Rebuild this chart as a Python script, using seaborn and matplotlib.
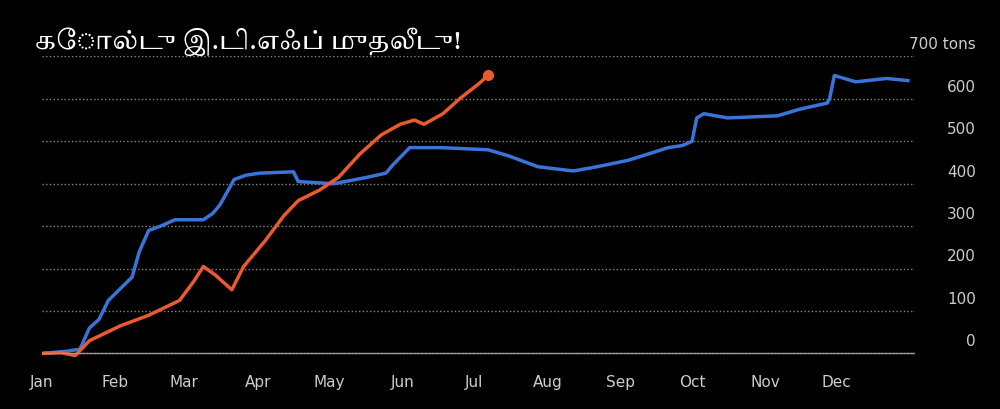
import pandas as pd
import matplotlib.pyplot as plt
import seaborn as sns
from matplotlib import font_manager

# Day-of-year positions and holdings (tons)
blue_days = [0, 10, 16, 20, 24, 28, 38, 41, 45, 50, 56, 68, 72, 75, 81, 86, 92, 106, 108, 123, 137, 145, 148, 155, 168, 188, 197, 209, 224, 234, 247, 264, 270, 274, 276, 279, 289, 310, 319, 331, 332, 334, 343, 356, 365]
blue_tons = [0, 5, 10, 60, 80, 125, 180, 240, 290, 300, 315, 315, 330, 350, 410, 420, 425, 428, 405, 400, 415, 425, 445, 485, 485, 480, 465, 440, 430, 440, 455, 485, 490, 500, 555, 565, 555, 560, 575, 590, 600, 655, 640, 648, 643]
orange_days = [0, 8, 14, 20, 33, 45, 58, 64, 68, 73, 80, 85, 94, 102, 108, 117, 125, 134, 143, 151, 157, 161, 169, 176, 184, 188]
orange_tons = [0, 2, -5, 30, 65, 90, 125, 170, 205, 185, 150, 205, 265, 325, 360, 385, 415, 470, 515, 540, 550, 540, 565, 600, 635, 655]
month_labels = ["Jan", "Feb", "Mar", "Apr", "May", "Jun", "Jul", "Aug", "Sep", "Oct", "Nov", "Dec"]
title = "கோல்டு இ.டி.எஃப் முதலீடு!"

fonts = [f.name for f in font_manager.fontManager.ttflist]
tamil = next((n for n in fonts if "Tamil" in n), "Noto Sans")

fig = plt.figure(figsize=(10, 4.1), dpi=100, facecolor="black")
ax = fig.add_axes([0.042, 0.12, 0.873, 0.74], facecolor="black")

sns.lineplot(x=blue_days, y=blue_tons, ax=ax, color="#3b74d8", lw=2.5)
sns.lineplot(x=orange_days, y=orange_tons, ax=ax, color="#ea5a2e", lw=2.5)
ax.plot(orange_days[-1], orange_tons[-1], "o", color="#ea5a2e", ms=7)

ax.set_xlim(0, 368)
ax.set_ylim(-15, 700)
month_starts = pd.date_range("2020-01-01", periods=12, freq="MS").dayofyear - 1
ax.set_xticks(month_starts)
ax.set_xticklabels(month_labels, color="#cccccc", fontsize=11)
ax.set_yticks(range(0, 701, 100))
ax.set_yticklabels([])
ax.tick_params(length=0, pad=10)
ax.grid(axis="y", color="#888888", ls=":", lw=1)
ax.axhline(0, color="#999999", lw=1)
for s in ax.spines.values():
    s.set_visible(False)
for v in range(0, 701, 100):
    lab = "700 tons" if v == 700 else str(v)
    ax.text(1.07, v + 12, lab, transform=ax.get_yaxis_transform(), ha="right",
            va="bottom", color="#cccccc", fontsize=11)

fig.text(0.035, 0.88, title, color="white", fontsize=18, fontweight="bold",
         fontfamily=[tamil, "DejaVu Sans"])

fig.savefig("out.png", facecolor="black")
